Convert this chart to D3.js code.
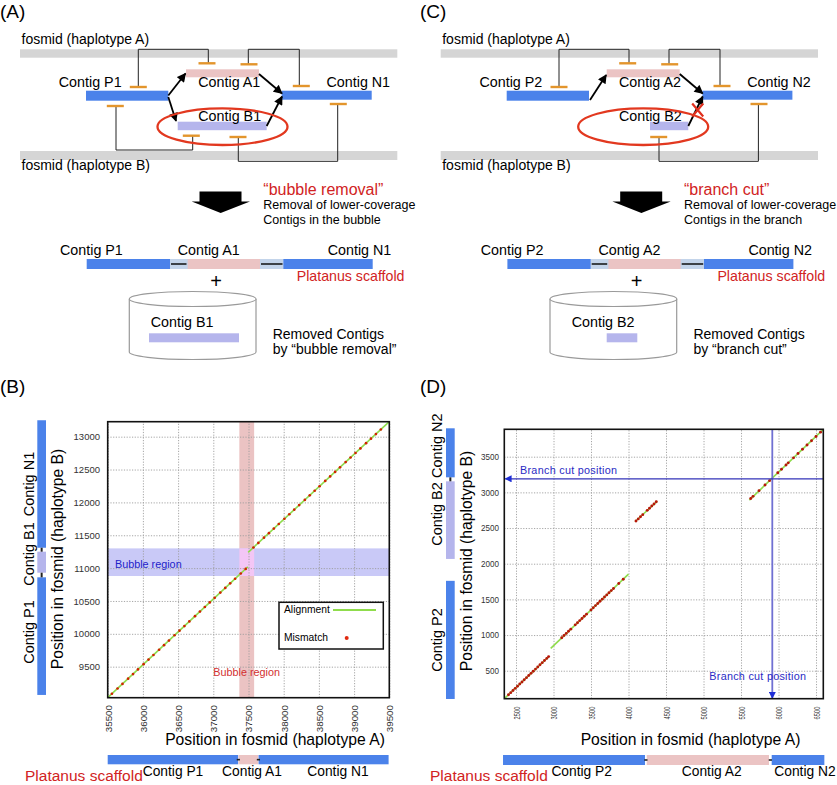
<!DOCTYPE html>
<html><head><meta charset="utf-8">
<script src="https://cdn.jsdelivr.net/npm/d3@7"></script>
<style>
body{margin:0;background:#fff}
svg{display:block}
text{font-family:"Liberation Sans",Arial,Helvetica,sans-serif}
</style>
</head><body>
<svg id="c" width="837" height="785"></svg>
<script>
// ================= DATA =================
const panelLabels = ["(A)", "(B)", "(C)", "(D)"];
const schematicNamesA = ["Contig P1", "Contig A1", "Contig N1", "Contig B1"];
const schematicNamesC = ["Contig P2", "Contig A2", "Contig N2", "Contig B2"];
const fosmidNames = ["fosmid (haplotype A)", "fosmid (haplotype B)"];
const methodTitles = ["\u201Cbubble removal\u201D", "\u201Cbranch cut\u201D"];
const methodNotes = [["Removal of lower-coverage", "Contigs in the bubble"], ["Removal of lower-coverage", "Contigs in the branch"]];
const removedNotes = [["Removed Contigs", "by \u201Cbubble removal\u201D"], ["Removed Contigs", "by \u201Cbranch cut\u201D"]];
const scaffoldLabel = "Platanus scaffold";
const xTitle = "Position in fosmid (haplotype A)";
const yTitle = "Position in fosmid (haplotype B)";

// ---- Panel B (bubble) ----
const bXDomain = [35500, 39500];
const bYDomain = [9028, 13228];
const bXTicks = [35500, 36000, 36500, 37000, 37500, 38000, 38500, 39000, 39500];
const bYTicks = [9500, 10000, 10500, 11000, 11500, 12000, 12500, 13000];
const bAlignments = [[35500, 9028, 37490, 11020], [37495, 11240, 39500, 13228]];
const bMismatches = [
  [35560, 9088], [35640, 9168], [35710, 9238], [35790, 9318], [35860, 9388], [35930, 9458],
  [36010, 9538], [36080, 9608], [36150, 9678], [36230, 9758], [36300, 9828], [36370, 9898],
  [36450, 9978], [36520, 10048], [36590, 10118], [36660, 10188], [36740, 10268], [36810, 10338],
  [36880, 10408], [36950, 10478], [37020, 10548], [37100, 10628], [37170, 10698], [37240, 10768],
  [37310, 10838], [37390, 10918], [37460, 10988],
  [37570, 11314], [37640, 11384], [37720, 11463], [37790, 11532], [37860, 11602], [37930, 11671],
  [38010, 11751], [38080, 11820], [38150, 11889], [38220, 11959], [38300, 12038], [38370, 12108],
  [38440, 12177], [38510, 12246], [38590, 12326], [38660, 12395], [38730, 12464], [38800, 12534],
  [38880, 12613], [38950, 12683], [39020, 12752], [39090, 12821], [39170, 12901], [39240, 12970],
  [39310, 13040], [39380, 13109]
];
const bBubbleX = [37370, 37580];
const bBubbleY = [10880, 11300];
const bContigsOnB = [["Contig P1", 9070, 10860, "main"], ["Contig B1", 10930, 11250, "alt"], ["Contig N1", 11310, 13250, "main"]];
const bContigsOnA = [["Contig P1", 35500, 37353, "main"], ["Contig A1", 37358, 37638, "hapA"], ["Contig N1", 37643, 39490, "main"]];
const bRegionLabel = "Bubble region";
const legendLabels = ["Alignment", "Mismatch"];

// ---- Panel D (branch cut) ----
const dXDomain = [2344, 6597];
const dYDomain = [108, 3884];
const dXTicks = [2500, 3000, 3500, 4000, 4500, 5000, 5500, 6000, 6500];
const dYTicks = [500, 1000, 1500, 2000, 2500, 3000, 3500];
const dAlignments = [[2344, 108, 2940, 700], [2963, 814, 4000, 1854], [4087, 2588, 4384, 2878], [5611, 2892, 6597, 3884]];
const dMismatches = [
  [2400, 163], [2430, 193], [2460, 223], [2490, 253], [2520, 283], [2550, 313], [2580, 343], [2610, 373],
  [2640, 403], [2670, 433], [2700, 463], [2730, 493], [2760, 523], [2790, 553], [2820, 583], [2850, 613],
  [2880, 643], [2910, 673], [2935, 698],
  [3110, 963], [3140, 993], [3170, 1023], [3200, 1053], [3230, 1083], [3290, 1143], [3320, 1173],
  [3350, 1203], [3380, 1233], [3410, 1263], [3440, 1293], [3500, 1353], [3530, 1383], [3560, 1413],
  [3590, 1443], [3620, 1473], [3650, 1503], [3680, 1533], [3710, 1563], [3740, 1593], [3770, 1623],
  [3800, 1653], [3870, 1723], [3930, 1783],
  [4100, 2598], [4130, 2628], [4160, 2658], [4190, 2688], [4250, 2748], [4280, 2778], [4310, 2808],
  [4340, 2838], [4370, 2868],
  [5630, 2914], [5660, 2944], [5740, 3024], [5820, 3104], [5880, 3164], [5990, 3274], [6040, 3324],
  [6100, 3384], [6130, 3414], [6200, 3484], [6260, 3544], [6320, 3604], [6380, 3664], [6440, 3724],
  [6500, 3784], [6560, 3844]
];
const dCutA = 5917;
const dCutB = 3190;
const dContigsOnB = [["Contig P2", 104, 1760, "main"], ["Contig B2", 2067, 3155, "alt"], ["Contig N2", 3211, 3898, "main"]];
const dContigsOnA = [["Contig P2", 2327, 4220, "main"], ["Contig A2", 4243, 5873, "hapA"], ["Contig N2", 5909, 6611, "main"]];
const dCutLabel = "Branch cut position";

// ================= DRAWING =================
const C = {
  blue: "#4b82ea", pink: "#ebc4c4", lav: "#b5b5ec", grey: "#d5d5d5", orange: "#e3952c",
  red: "#d12323", gapBlue: "#c3d4ea", green: "#8fdc4c", navy: "#2a2ac4"
};
const typeColor = {main: C.blue, alt: C.lav, hapA: C.pink};

const svg = d3.select("#c");
svg.append("rect").attr("width", 837).attr("height", 785).attr("fill", "#fff");
const defs = svg.append("defs");
function marker(id, color, w, h) {
  defs.append("marker").attr("id", id).attr("viewBox", "0 0 10 10").attr("refX", 9).attr("refY", 5)
    .attr("markerWidth", w).attr("markerHeight", h).attr("markerUnits", "userSpaceOnUse").attr("orient", "auto")
    .append("path").attr("d", "M0,0L10,5L0,10z").attr("fill", color);
}
marker("ahBlack", "#000", 10, 9);
marker("ahBlue", "#1e2ed6", 8, 7);

// panel letters
[[0, 18], [0, 393], [420, 18], [420, 393]].forEach((p, i) => {
  svg.append("text").attr("x", p[0]).attr("y", p[1]).attr("font-size", 19).text(panelLabels[i]);
});

function schematic(dx, names, variant) {
  const g = svg.append("g").attr("transform", `translate(${dx},0)`);
  const txt = (x, y, s, size, color, anchor) => g.append("text").attr("x", x).attr("y", y)
    .attr("font-size", size).attr("fill", color || "#000").attr("text-anchor", anchor || "start").text(s);
  g.append("rect").attr("x", 20).attr("y", 49.3).attr("width", 377.3).attr("height", 8.4).attr("fill", C.grey);
  g.append("rect").attr("x", 20).attr("y", 151).attr("width", 377.3).attr("height", 9).attr("fill", C.grey);
  txt(21.5, 43.5, fosmidNames[0], 14);
  txt(21.5, 170, fosmidNames[1], 14);
  const conn = [
    [[138.3, 87], [138.3, 49.3], [208.3, 49.3], [208.3, 63.3]],
    [[248.3, 64.3], [248.3, 49.3], [299.3, 49.3], [299.3, 86]],
    [[238.3, 137], [238.3, 161.3], [337.7, 161.3], [337.7, 104]]
  ];
  const ticks = [[138.3, 87], [207, 63.3], [249, 64.3], [301.3, 86], [238, 137], [338.3, 104]];
  if (variant === 0) {
    conn.push([[116, 106], [116, 150], [192.7, 150], [192.7, 135.7]]);
    ticks.push([115.3, 106], [191.3, 135.7]);
  }
  conn.forEach(c => g.append("path").attr("d", d3.line()(c)).attr("fill", "none").attr("stroke", "#222").attr("stroke-width", 1));
  g.append("rect").attr("x", 86).attr("y", 90.7).attr("width", 82.3).attr("height", 10).attr("fill", C.blue);
  g.append("rect").attr("x", 186).attr("y", 69.3).attr("width", 73).attr("height", 8).attr("fill", C.pink);
  g.append("rect").attr("x", 281.7).attr("y", 90.7).attr("width", 90).attr("height", 9).attr("fill", C.blue);
  if (variant === 0) g.append("rect").attr("x", 177.7).attr("y", 121.7).attr("width", 89).attr("height", 8.5).attr("fill", C.lav);
  else g.append("rect").attr("x", 229.3).attr("y", 121.7).attr("width", 38.3).attr("height", 8.5).attr("fill", C.lav);
  ticks.forEach(t => g.append("line").attr("x1", t[0] - 8.5).attr("x2", t[0] + 8.5).attr("y1", t[1]).attr("y2", t[1])
    .attr("stroke", C.orange).attr("stroke-width", 2.4));
  txt(58.8, 87.3, names[0], 14.3);
  txt(198.3, 87.3, names[1], 14.3);
  txt(326.5, 87, names[2], 14.3);
  txt(198.3, 120.7, names[3], 14.3);
  const arrows = variant === 0
    ? [[168.3, 95.5, 185.5, 73.5], [168.3, 97, 176, 121], [259, 74, 282, 93.5], [266.7, 126, 282, 96.5]]
    : [[169.3, 100, 185.5, 75], [259, 74, 282, 93.5], [267.6, 126, 282, 96.5]];
  arrows.forEach(a => g.append("line").attr("x1", a[0]).attr("y1", a[1]).attr("x2", a[2]).attr("y2", a[3])
    .attr("stroke", "#000").attr("stroke-width", 1.8).attr("marker-end", "url(#ahBlack)"));
  if (variant === 1) {
    g.append("path").attr("d", "M271.5,103.5L282.5,116.5M282.5,103.5L271.5,116.5")
      .attr("stroke", "#e0301e").attr("stroke-width", 2.2).attr("fill", "none");
  }
  g.append("ellipse").attr("cx", 222.5).attr("cy", 126.7).attr("rx", 65).attr("ry", 18.3)
    .attr("fill", "none").attr("stroke", "#e2381f").attr("stroke-width", 2.3);
  g.append("path").attr("d", "M199.5,191.5H241.5V201.5H250L220.7,213L191.7,201.5H199.5Z").attr("fill", "#000");
  txt(263.3, 195, methodTitles[variant], 16, C.red);
  txt(263.3, 208.5, methodNotes[variant][0], 12.5);
  txt(263.3, 224, methodNotes[variant][1], 12.5);
  txt(60, 255, names[0], 14.3);
  txt(177.7, 255, names[1], 14.3);
  txt(327.7, 255, names[2], 14.3);
  g.append("rect").attr("x", 170).attr("y", 259).attr("width", 113.3).attr("height", 10).attr("fill", C.gapBlue);
  g.append("rect").attr("x", 86.7).attr("y", 259).attr("width", 83.3).attr("height", 10).attr("fill", C.blue);
  g.append("rect").attr("x", 187.7).attr("y", 259).attr("width", 72.3).attr("height", 10).attr("fill", C.pink);
  g.append("rect").attr("x", 283.3).attr("y", 259).attr("width", 89.4).attr("height", 10).attr("fill", C.blue);
  g.append("path").attr("d", "M171,264H186.5M261,264H282.5").attr("stroke", "#111").attr("stroke-width", 1.3);
  txt(296.7, 280.7, scaffoldLabel, 14.2, C.red);
  txt(216, 288, "+", 20, "#000", "middle");
  g.append("path").attr("d", "M129.3,299V352A63.35,7.5 0 0 0 256,352V299").attr("fill", "#fff").attr("stroke", "#9a9a9a").attr("stroke-width", 1.2);
  g.append("ellipse").attr("cx", 192.7).attr("cy", 299).attr("rx", 63.35).attr("ry", 7.5).attr("fill", "#fff").attr("stroke", "#9a9a9a").attr("stroke-width", 1.2);
  txt(variant === 0 ? 150.7 : 151, 326.7, names[3], 14.3);
  if (variant === 0) g.append("rect").attr("x", 149).attr("y", 333.3).attr("width", 90).attr("height", 9).attr("fill", C.lav);
  else g.append("rect").attr("x", 186).attr("y", 333.3).attr("width", 30.6).attr("height", 9).attr("fill", C.lav);
  txt(272.7, 339, removedNotes[variant][0], 14);
  txt(272.7, 354.3, removedNotes[variant][1], 14);
}
schematic(0, schematicNamesA, 0);
schematic(420.7, schematicNamesC, 1);

function dotplot(cfg) {
  const x = d3.scaleLinear().domain(cfg.xDomain).range(cfg.xRange);
  const y = d3.scaleLinear().domain(cfg.yDomain).range(cfg.yRange);
  const [L, R] = cfg.xRange, [B, T] = cfg.yRange;
  const g = svg.append("g");
  if (cfg.bands) cfg.bands(g, x, y);
  const gx = g.append("g").attr("transform", `translate(0,${B})`)
    .call(d3.axisBottom(x).tickValues(cfg.xTicks).tickSize(-(B - T)).tickFormat(""));
  const gy = g.append("g").attr("transform", `translate(${L},0)`)
    .call(d3.axisLeft(y).tickValues(cfg.yTicks).tickSize(-(R - L)).tickFormat(""));
  [gx, gy].forEach(a => {
    a.select(".domain").remove();
    a.selectAll("line").attr("stroke", "#9c9c9c").attr("stroke-width", 0.9).attr("stroke-dasharray", "1.2,1.5");
  });
  g.append("g").selectAll("line").data(cfg.aligns).join("line")
    .attr("x1", d => x(d[0])).attr("y1", d => y(d[1])).attr("x2", d => x(d[2])).attr("y2", d => y(d[3]))
    .attr("stroke", C.green).attr("stroke-width", 1.6);
  g.append("g").selectAll("circle").data(cfg.mism).join("circle")
    .attr("cx", d => x(d[0])).attr("cy", d => y(d[1])).attr("r", cfg.mmR).attr("fill", cfg.mmColor);
  if (cfg.over) cfg.over(g, x, y);
  g.append("rect").attr("x", L).attr("y", T).attr("width", R - L).attr("height", B - T)
    .attr("fill", "none").attr("stroke", "#111").attr("stroke-width", 1.6);
  const lx = g.append("g").attr("transform", `translate(0,${B})`)
    .call(d3.axisBottom(x).tickValues(cfg.xTicks).tickSize(0).tickFormat(d3.format("d")));
  lx.select(".domain").remove();
  lx.selectAll("text").attr("transform", "rotate(-90)").attr("text-anchor", "end")
    .attr("x", -cfg.xLabOff).attr("y", 0).attr("dy", "0.35em")
    .attr("font-family", "DejaVu Sans Mono, monospace").attr("font-size", cfg.xLabSize).attr("fill", "#333");
  if (cfg.xLabLen) lx.selectAll("text").attr("textLength", cfg.xLabLen).attr("lengthAdjust", "spacingAndGlyphs");
  const ly = g.append("g").attr("transform", `translate(${L},0)`)
    .call(d3.axisLeft(y).tickValues(cfg.yTicks).tickSize(0).tickPadding(cfg.yLabOff).tickFormat(d3.format("d")));
  ly.select(".domain").remove();
  ly.selectAll("text").attr("font-family", "DejaVu Sans Mono, monospace").attr("font-size", cfg.yLabSize).attr("fill", "#333");
  if (cfg.yLabCharW) ly.selectAll("text").attr("textLength", d => String(d).length * cfg.yLabCharW).attr("lengthAdjust", "spacingAndGlyphs");
  g.append("text").attr("x", cfg.xTitle[0]).attr("y", cfg.xTitle[1]).attr("text-anchor", "middle")
    .attr("font-size", 15.7).text(xTitle);
  g.append("text").attr("transform", `translate(${cfg.yTitle[0]},${cfg.yTitle[1]}) rotate(-90)`).attr("text-anchor", "middle")
    .attr("font-size", 15.7).text(yTitle);
  const sb = cfg.sideBar;
  g.append("g").selectAll("rect").data(cfg.contigsB).join("rect")
    .attr("x", sb[0]).attr("width", sb[1] - sb[0]).attr("y", d => y(d[2])).attr("height", d => y(d[1]) - y(d[2]))
    .attr("fill", d => typeColor[d[3]]);
  for (let i = 1; i < cfg.contigsB.length; i++) {
    const a = cfg.contigsB[i - 1], b = cfg.contigsB[i];
    if (b[1] - a[2] < 150) g.append("line").attr("x1", (sb[0] + sb[1]) / 2).attr("x2", (sb[0] + sb[1]) / 2)
      .attr("y1", y(a[2])).attr("y2", y(b[1])).attr("stroke", "#222").attr("stroke-width", 2);
  }
  cfg.contigsB.forEach((d, i) => {
    g.append("text").attr("transform", `translate(${cfg.sideLabX},${cfg.sideLabY[i]}) rotate(-90)`)
      .attr("text-anchor", "middle").attr("font-size", 14.5).text(d[0]);
  });
  const bb = cfg.botBar;
  g.append("g").selectAll("rect").data(cfg.contigsA).join("rect")
    .attr("x", d => x(d[1])).attr("width", d => x(d[2]) - x(d[1])).attr("y", bb[0]).attr("height", bb[1] - bb[0])
    .attr("fill", d => typeColor[d[3]]);
  for (let i = 1; i < cfg.contigsA.length; i++) {
    const a = cfg.contigsA[i - 1], b = cfg.contigsA[i];
    const m = (x(a[2]) + x(b[1])) / 2;
    g.append("line").attr("x1", m - 1.6).attr("x2", m + 1.6).attr("y1", (bb[0] + bb[1]) / 2).attr("y2", (bb[0] + bb[1]) / 2)
      .attr("stroke", "#222").attr("stroke-width", 1.6);
  }
  cfg.contigsA.forEach((d, i) => {
    g.append("text").attr("x", cfg.botLabX[i]).attr("y", 775.5).attr("text-anchor", "middle")
      .attr("font-size", 13.8).text(d[0]);
  });
  g.append("text").attr("x", cfg.scafX).attr("y", 780.5).attr("font-size", 15.5).attr("fill", C.red).text(scaffoldLabel);
  return {x, y, g};
}

dotplot({
  xDomain: bXDomain, yDomain: bYDomain, xRange: [107.7, 389.3], yRange: [697.7, 421.7],
  xTicks: bXTicks, yTicks: bYTicks, aligns: bAlignments, mism: bMismatches, mmR: 1.35, mmColor: "#cf2500",
  xLabOff: 7.3, xLabSize: 9.8, yLabOff: 7.7, yLabSize: 9.5,
  xTitle: [275, 745], yTitle: [63, 559],
  sideBar: [37.3, 46], sideLabX: 33.5, sideLabY: [632, 554, 484],
  botBar: [755, 764.3], botLabX: [173, 252, 338], scafX: 25, contigsB: bContigsOnB, contigsA: bContigsOnA,
  bands: (g, x, y) => {
    const [L, R] = x.range(), [B, T] = y.range();
    g.append("rect").attr("x", x(bBubbleX[0])).attr("width", x(bBubbleX[1]) - x(bBubbleX[0])).attr("y", T).attr("height", B - T).attr("fill", "#ebc3c3");
    g.append("rect").attr("x", L).attr("width", R - L).attr("y", y(bBubbleY[1])).attr("height", y(bBubbleY[0]) - y(bBubbleY[1])).attr("fill", "#c9c9f7");
    g.append("rect").attr("x", x(bBubbleX[0])).attr("width", x(bBubbleX[1]) - x(bBubbleX[0]))
      .attr("y", y(bBubbleY[1])).attr("height", y(bBubbleY[0]) - y(bBubbleY[1])).attr("fill", "#f3c6f5");
  },
  over: (g, x, y) => {
    g.append("text").attr("x", 115).attr("y", 567.5).attr("font-family", "Open Sans, sans-serif").attr("font-size", 10.8)
      .attr("fill", "#2323c8").text(bRegionLabel);
    g.append("text").attr("x", 213.3).attr("y", 676).attr("font-family", "Open Sans, sans-serif").attr("font-size", 10.8)
      .attr("fill", "#d23030").text(bRegionLabel);
    g.append("rect").attr("x", 279).attr("y", 602.3).attr("width", 104.3).attr("height", 46.7).attr("fill", "#fff")
      .attr("stroke", "#111").attr("stroke-width", 1.5);
    g.append("text").attr("x", 284).attr("y", 613).attr("font-family", "Open Sans, sans-serif").attr("font-size", 10.3).text(legendLabels[0]);
    g.append("line").attr("x1", 333).attr("x2", 376).attr("y1", 610).attr("y2", 610).attr("stroke", C.green).attr("stroke-width", 1.8);
    g.append("text").attr("x", 284).attr("y", 640.5).attr("font-family", "Open Sans, sans-serif").attr("font-size", 10.3).text(legendLabels[1]);
    g.append("circle").attr("cx", 346.7).attr("cy", 638).attr("r", 2).attr("fill", "#e02a10");
  }
});

dotplot({
  xDomain: dXDomain, yDomain: dYDomain, xRange: [504.3, 823.3], yRange: [698.7, 429.3],
  xTicks: dXTicks, yTicks: dYTicks, aligns: dAlignments, mism: dMismatches, mmR: 1.45, mmColor: "#b8160a",
  xLabOff: 8, xLabSize: 9, xLabLen: 12.7, yLabOff: 5.3, yLabSize: 9, yLabCharW: 4.5,
  xTitle: [690.5, 745], yTitle: [471.5, 561],
  sideBar: [446, 454.7], sideLabX: 442, sideLabY: [640, 514, 445.7],
  botBar: [755, 765], botLabX: [581.7, 711.7, 805], scafX: 430, contigsB: dContigsOnB, contigsA: dContigsOnA,
  over: (g, x, y) => {
    const [L, R] = x.range(), [B, T] = y.range();
    g.append("line").attr("x1", x(dCutA)).attr("x2", x(dCutA)).attr("y1", T).attr("y2", B - 0.5)
      .attr("stroke", "#7070d2").attr("stroke-width", 1.8).attr("marker-end", "url(#ahBlue)");
    g.append("line").attr("x1", R).attr("x2", L + 1).attr("y1", y(dCutB)).attr("y2", y(dCutB))
      .attr("stroke", "#3333b8").attr("stroke-width", 1.2).attr("marker-end", "url(#ahBlue)");
    g.append("text").attr("x", 520).attr("y", 474).attr("font-family", "Open Sans, sans-serif").attr("font-size", 10.8)
      .attr("fill", C.navy).attr("textLength", 97).text(dCutLabel);
    g.append("text").attr("x", 709.3).attr("y", 680).attr("font-family", "Open Sans, sans-serif").attr("font-size", 10.8)
      .attr("fill", C.navy).attr("textLength", 96.7).text(dCutLabel);
  }
});
</script>
</body></html>
